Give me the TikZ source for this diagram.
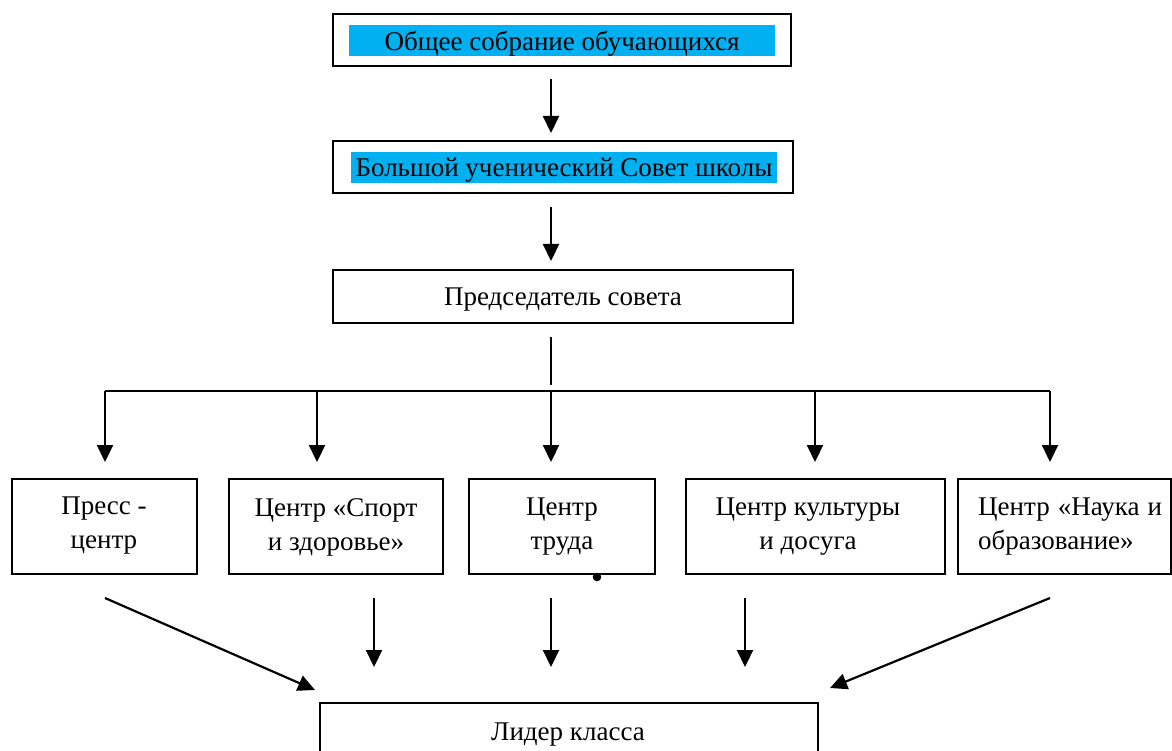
\documentclass[tikz,border=0pt]{standalone}
\usepackage{fontspec}
\setmainfont{Liberation Serif}
\usetikzlibrary{arrows.meta}
\definecolor{hlcyan}{HTML}{00B0F0}
\begin{document}
\begin{tikzpicture}[x=1pt,y=-1pt,
  font=\fontsize{27}{34}\selectfont,
  box/.style={draw,line width=2pt,inner sep=0pt},
  hl/.style={fill=hlcyan,inner sep=0pt,minimum width=426pt,minimum height=31pt},
  txt/.style={inner sep=0pt,align=center},
  arr/.style={line width=2.2pt,-{Triangle[length=17pt,width=16pt]}},
  ln/.style={line width=2.2pt}]
\useasboundingbox (0,0) rectangle (1172,751);
\clip (0,0) rectangle (1172,751);

% top boxes
\node[box,minimum width=458pt,minimum height=52pt] (b1) at (562,40) {};
\node[hl] (h1) at (562,40.5) {};
\node[txt] (th1) at (562,43.5) {Общее собрание обучающихся};
\node[box,minimum width=460pt,minimum height=52pt] (b2) at (563,167) {};
\node[hl] (h2) at (564,167.5) {};
\node[txt] (th2) at (564,170.5) {Большой ученический Совет школы};
\node[box,minimum width=460pt,minimum height=53pt] (b3) at (563,296.5) {};
\node[txt] (th3) at (563,300) {Председатель совета};

% bottom row boxes
\node[box,minimum width=185pt,minimum height=95pt] (c1) at (104.5,526.5) {};
\node[box,minimum width=214pt,minimum height=95pt] (c2) at (336,526.5) {};
\node[box,minimum width=186pt,minimum height=95pt] (c3) at (562,526.5) {};
\node[box,minimum width=259pt,minimum height=95pt] (c4) at (815.5,526.5) {};
\node[box,minimum width=213pt,minimum height=95pt] (c5) at (1064.5,526.5) {};

\node[txt] (t1) at (104,526) {Пресс -\\центр};
\node[txt] (t2) at (336,527) {Центр «Спорт\\и здоровье»};
\node[txt] (t3) at (562,527) {Центр\\труда};
\node[txt] (t4) at (808,527) {Центр культуры\\и досуга};
\node[txt,align=left,anchor=west] (t5) at (978,527) {\makebox[184pt][s]{Центр «Наука и}\\образование»};

\node[box,minimum width=498pt,minimum height=60pt] (ld) at (569,733) {};
\node[txt] (tl) at (568,735) {Лидер класса};

% stray dot
\fill (597,577) circle (4.3pt);

% coordinates
\coordinate (p1) at (551,79);  \coordinate (q1) at (551,133);
\coordinate (p2) at (551,207); \coordinate (q2) at (551,261);
\coordinate (p3) at (551,337); \coordinate (q3) at (551,385);
\coordinate (hL) at (105,391); \coordinate (hR) at (1050,391);
\foreach \x/\n in {105/1,317/2,551/3,815/4,1050/5}{
  \coordinate (s\n) at (\x,391);
  \coordinate (e\n) at (\x,462);
}
\coordinate (u1) at (105,598);  \coordinate (v1) at (315,690);
\coordinate (u2) at (374,598);  \coordinate (v2) at (374,667);
\coordinate (u3) at (551,598);  \coordinate (v3) at (551,667);
\coordinate (u4) at (745,598);  \coordinate (v4) at (745,667);
\coordinate (u5) at (1050,598); \coordinate (v5) at (830,688);

\draw[arr] (p1) -- (q1);
\draw[arr] (p2) -- (q2);
\draw[ln] (p3) -- (q3);
\draw[ln] (hL) -- (hR);
\foreach \n in {1,...,5}{\draw[arr] (s\n) -- (e\n);}
\foreach \n in {1,...,5}{\draw[arr] (u\n) -- (v\n);}
\end{tikzpicture}
\end{document}
